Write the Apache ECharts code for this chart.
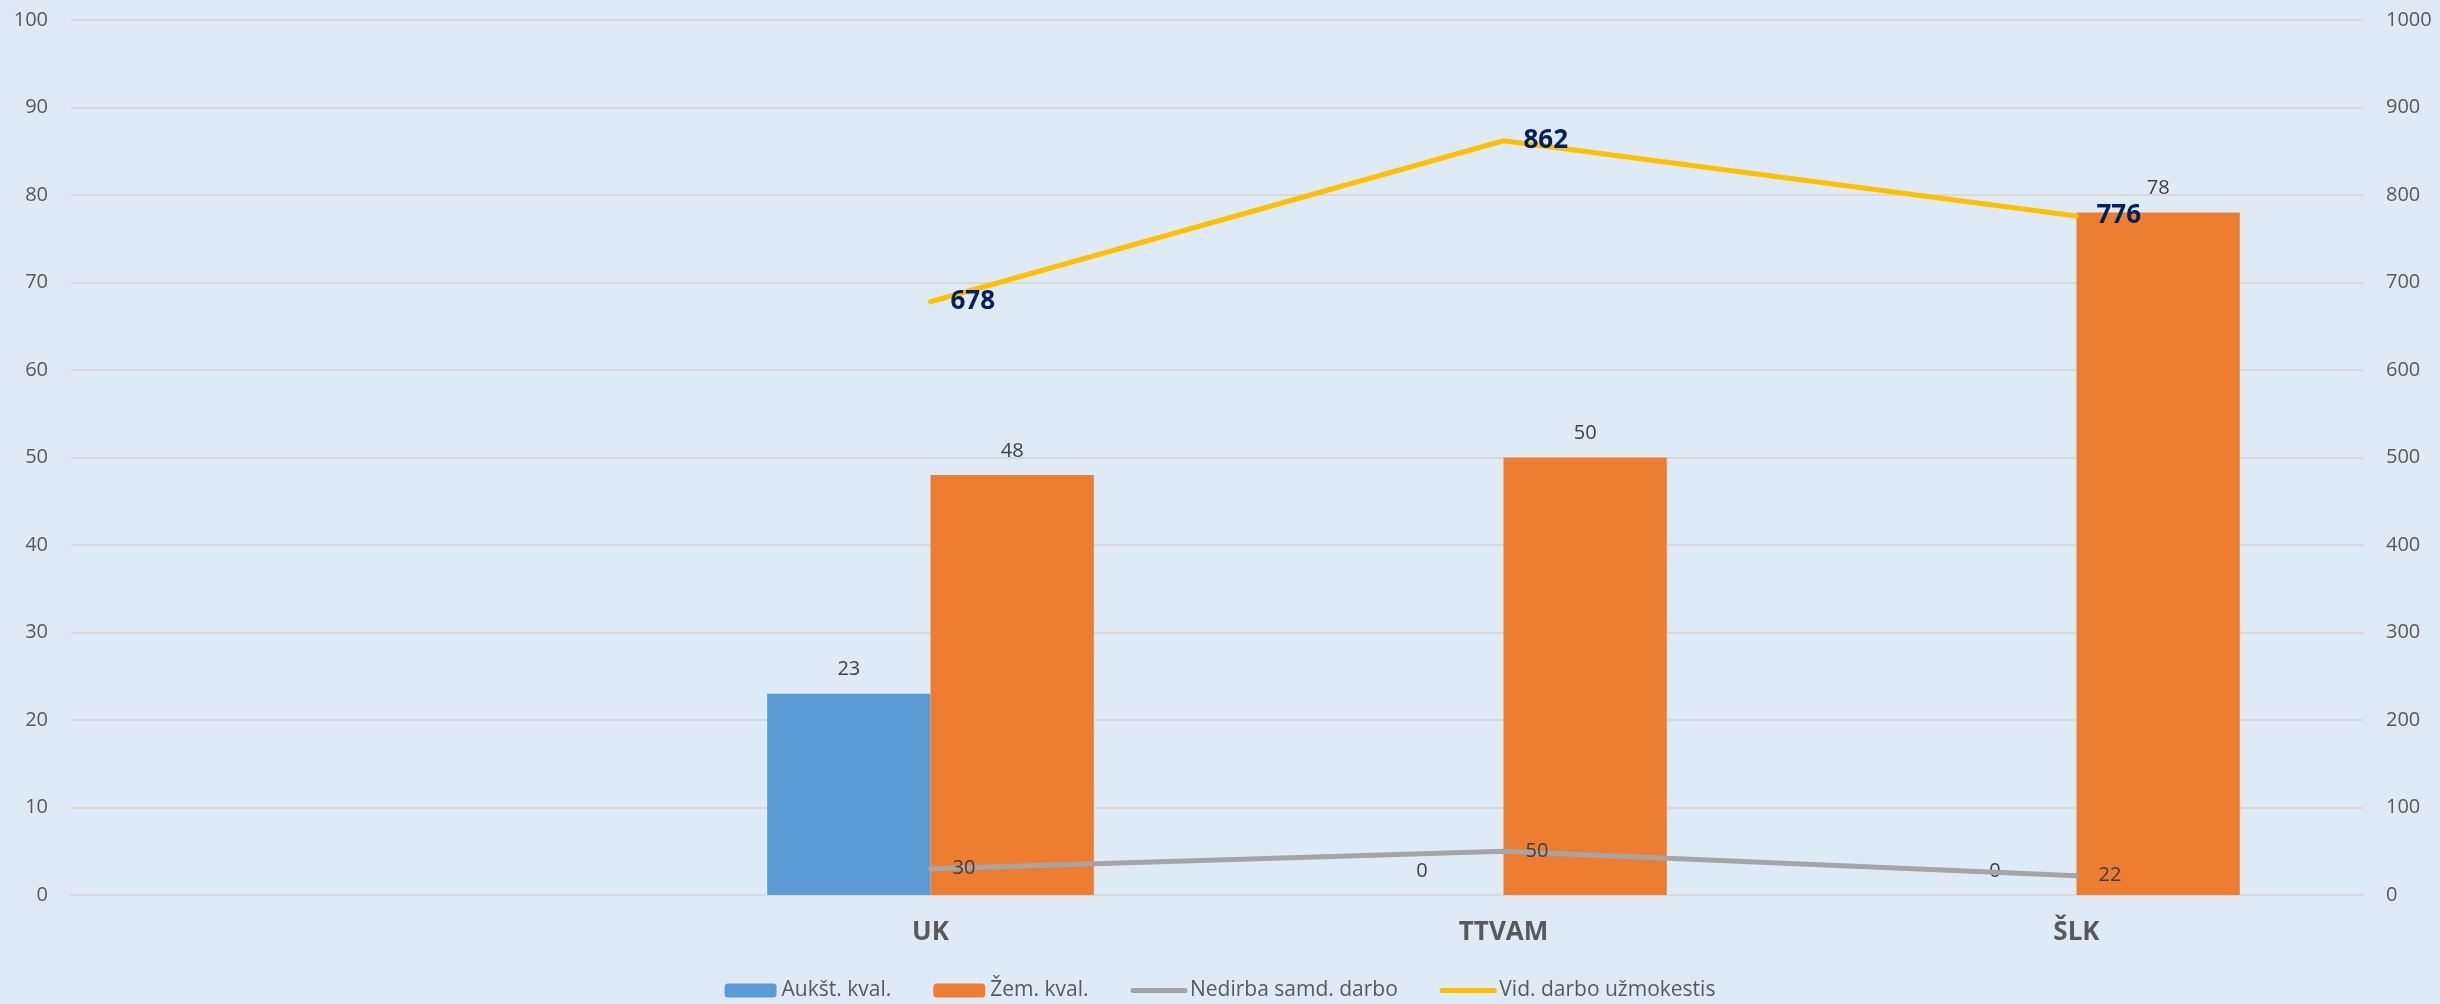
<!DOCTYPE html>
<html>
<head>
<meta charset="utf-8">
<script src="https://cdn.jsdelivr.net/npm/echarts@6/dist/echarts.min.js"></script>
<style>
  html, body { margin: 0; padding: 0; background: #deebf7; }
  #chart { width: 2440px; height: 1004px; }
</style>
</head>
<body>
<div id="chart"></div>
<script>
// categories (first one is empty in the source)
const categories = ["", "UK", "TTVAM", "ŠLK"];
const seriesNames = ["Aukšt. kval.", "Žem. kval.", "Nedirba samd. darbo", "Vid. darbo užmokestis"];
// bars, left axis
const aukstKval = [null, 23, 0, 0];
const zemKval = [null, 48, 50, 78];
// lines, right axis
const nedirba = [null, 30, 50, 22];
const vidDU = [null, 678, 862, 776];

const leftTicks = { min: 0, max: 100, interval: 10 };
const rightTicks = { min: 0, max: 1000, interval: 100 };

const font = "'Open Sans', 'Noto Sans', sans-serif";
const txt = "#595959";
const dark = "#404040";

let chartDom = document.getElementById("chart");
let myChart = echarts.init(chartDom);

// legend entries, line ones without the marker dot
let legendData = seriesNames.map(function(n, i) {
  if (i < 2) return { name: n };
  return { name: n, itemStyle: { opacity: 0 }, lineStyle: { width: 5, cap: "round" } };
});

let option = {
  animation: false,
  backgroundColor: "#deebf7",
  textStyle: { fontFamily: font },
  grid: { left: 71, right: 77, top: 20, bottom: 109 },
  legend: {
    data: legendData,
    left: "center",
    top: 975,
    itemWidth: 52,
    itemHeight: 14,
    itemGap: 42,
    textStyle: { fontSize: 21, color: txt, fontFamily: font }
  },
  xAxis: [
    {
      type: "category",
      data: categories,
      axisLine: { show: true, lineStyle: { color: "#d9d9d9", width: 2 } },
      axisTick: { show: false },
      axisLabel: { fontSize: 26, fontWeight: "bold", color: txt, margin: 25, fontFamily: font }
    }
  ],
  yAxis: [
    {
      type: "value",
      min: leftTicks.min,
      max: leftTicks.max,
      interval: leftTicks.interval,
      axisLine: { show: false },
      axisTick: { show: false },
      axisLabel: { fontSize: 20, color: txt, margin: 23, fontFamily: font },
      splitLine: { lineStyle: { color: "#d9d9d9", width: 2 } }
    },
    {
      type: "value",
      min: rightTicks.min,
      max: rightTicks.max,
      interval: rightTicks.interval,
      axisLine: { show: false },
      axisTick: { show: false },
      axisLabel: {
        fontSize: 20, color: txt, margin: 23, fontFamily: font,
        formatter: function(v) { return String(v); }
      },
      splitLine: { show: false }
    }
  ],
  series: [
    {
      name: seriesNames[0],
      type: "bar",
      data: aukstKval,
      barGap: "0%",
      barCategoryGap: "43%",
      itemStyle: { color: "#5b9bd5" },
      label: { show: true, position: "top", distance: 14, fontSize: 20, color: dark, fontFamily: font }
    },
    {
      name: seriesNames[1],
      type: "bar",
      data: zemKval,
      barGap: "0%",
      barCategoryGap: "43%",
      itemStyle: { color: "#ed7d31" },
      label: { show: true, position: "top", distance: 14, fontSize: 20, color: dark, fontFamily: font }
    },
    {
      name: seriesNames[2],
      type: "line",
      yAxisIndex: 1,
      data: nedirba,
      symbol: "circle",
      symbolSize: 0,
      showSymbol: true,
      lineStyle: { color: "#a5a5a5", width: 5, cap: "round" },
      itemStyle: { color: "#a5a5a5" },
      label: { show: true, position: "right", distance: 22, fontSize: 20, color: dark, fontFamily: font }
    },
    {
      name: seriesNames[3],
      type: "line",
      yAxisIndex: 1,
      data: vidDU,
      symbol: "circle",
      symbolSize: 0,
      showSymbol: true,
      lineStyle: { color: "#ffc000", width: 5, cap: "round" },
      itemStyle: { color: "#ffc000" },
      label: { show: true, position: "right", distance: 20, fontSize: 26, fontWeight: "bold", color: "#002060", fontFamily: font }
    }
  ]
};

myChart.setOption(option, true);
</script>
</body>
</html>
